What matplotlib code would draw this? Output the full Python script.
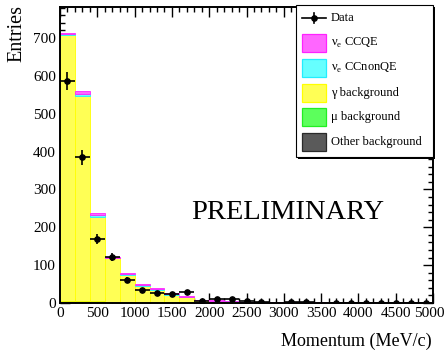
import numpy as np
import matplotlib
matplotlib.use("Agg")
import matplotlib.pyplot as plt
from matplotlib.patches import Rectangle
from matplotlib.lines import Line2D
from matplotlib.ticker import MultipleLocator, FuncFormatter

plt.rcParams['font.family'] = ['Liberation Serif', 'DejaVu Serif']
plt.rcParams['mathtext.fontset'] = 'custom'
plt.rcParams['mathtext.rm'] = 'Liberation Serif'

# ---- data ----
bin_edges = list(range(0, 5001, 200))
data_counts = [587, 385, 170, 122, 62, 34, 26, 23, 30, 6, 10, 10, 5, 2, 0,
               2, 2, 0, 1, 1, 1, 1, 1, 1, 1]
other_bkg = [4, 4, 3, 1, 1, 1, 0.5, 0.5, 0.5, 1, 1, 1, 0.5, 0.3, 0.3,
             0.3, 0.2, 0.2, 0.2, 0.2, 0.2, 0.2, 0.2, 0.2, 0.2]
mu_bkg = [2, 2, 2, 1.5, 1, 1, 1, 1, 1, 1.5, 1.5, 1.5, 1, 1, 1,
          1, 1, 0.8, 0.8, 0.8, 0.8, 0.8, 0.8, 0.8, 0.8]
gamma_bkg = [701, 542, 223, 115.5, 71, 42, 33.5, 20.5, 13.5, 4.5, 3.5, 2.5, 1.5, 1.2, 0.8,
             0.5, 0.5, 0.4, 0.4, 0.3, 0.3, 0.3, 0.3, 0.3, 0.3]
nue_ccnonqe = [3, 5, 5, 2, 3, 3, 2, 2, 1, 0.5, 0.5, 0.5, 0.3, 0.2, 0.2,
               0.1, 0.1, 0.1, 0.1, 0.1, 0.1, 0.1, 0.1, 0.1, 0.1]
nue_ccqe = [2, 8, 4, 2, 2, 2, 3, 2, 1.5, 0.5, 0.5, 0.3, 0.2, 0.1, 0.1,
            0.1, 0.1, 0.1, 0.1, 0.1, 0.1, 0.1, 0.1, 0.1, 0.1]

# (label, values, fill colour, edge colour)
components = [
    ("Other background", other_bkg, '#5a5a5a', '#2a2a2a'),
    ("\u03bc background", mu_bkg, '#5cff5c', '#22ee22'),
    ("\u03b3 background", gamma_bkg, '#ffff55', '#ffff00'),
    ("\u03bd$_\\mathrm{e}$ CCnonQE", nue_ccnonqe, '#66ffff', '#22eeff'),
    ("\u03bd$_\\mathrm{e}$ CCQE", nue_ccqe, '#ff66ff', '#ff22ff'),
]

W, H = 446, 356
fig = plt.figure(figsize=(W / 100, H / 100), dpi=100)
ax = fig.add_axes([60 / W, 1 - 303 / H, (433 - 60) / W, (303 - 7) / H])

edges = np.array(bin_edges, dtype=float)
lefts = edges[:-1]
widths = np.diff(edges)
centers = lefts + widths / 2

bottom = np.zeros(len(lefts))
for name, vals, col, ecol in components:
    v = np.array(vals, dtype=float)
    ax.bar(lefts, v, width=widths, bottom=bottom, align='edge', color=col,
           edgecolor=ecol, linewidth=0.6, zorder=2)
    bottom += v

d = np.array(data_counts, dtype=float)
mask = d > 0
ax.errorbar(centers[mask], d[mask], xerr=widths[mask] / 2, yerr=np.sqrt(d[mask]),
            fmt='o', color='black', markersize=3.8, elinewidth=1.2, capsize=0, zorder=5)

x_max = bin_edges[-1]
ax.set_xlim(0, x_max)
ax.set_ylim(0, 782)
ax.xaxis.set_major_locator(MultipleLocator(500))
ax.xaxis.set_minor_locator(MultipleLocator(100))
ax.yaxis.set_major_locator(MultipleLocator(100))
ax.yaxis.set_minor_locator(MultipleLocator(20))
# last x label is drawn separately, nudged left so it stays on the canvas
ax.xaxis.set_major_formatter(FuncFormatter(lambda v, p: '' if v >= x_max else f'{v:.0f}'))
ax.tick_params(which='both', direction='in', top=True, right=True, labelsize=11,
               width=1.0, pad=3)
ax.tick_params(which='major', length=7)
ax.tick_params(which='minor', length=3.5)
for sp in ax.spines.values():
    sp.set_linewidth(1.4)
    sp.set_zorder(6)

ax.annotate(f'{x_max}', xy=(x_max, 0), xycoords='data', xytext=(-4, -4),
            textcoords='offset pixels', ha='center', va='top', fontsize=11,
            annotation_clip=False)

fig.text(432 / W, 1 - 341 / H, "Momentum (MeV/c)", ha='right', va='center', fontsize=13)
fig.text(17 / W, 1 - 5 / H, "Entries", ha='center', va='top', rotation=90, fontsize=14.5)

ax.text(0.6116, 0.284, "PRELIMINARY", transform=ax.transAxes, ha='center',
        va='baseline', fontsize=20.5, zorder=7)

# ---- legend (drawn in figure pixel coords) ----
def fx(x):
    return x / W

def fy(y):
    return 1 - y / H

lx0, lx1, ly0, ly1 = 296, 433, 5, 157
fig.patches.append(Rectangle((fx(lx0 + 2), fy(ly1 + 2)), (lx1 - lx0) / W, (ly1 - ly0) / H,
                             transform=fig.transFigure, facecolor='black',
                             edgecolor='none', zorder=8))
fig.patches.append(Rectangle((fx(lx0), fy(ly1)), (lx1 - lx0) / W, (ly1 - ly0) / H,
                             transform=fig.transFigure, facecolor='white',
                             edgecolor='black', linewidth=0.8, zorder=9))

rows = [18, 43, 68, 93, 117, 142]
bx0, bx1 = 302, 326
tx = 331
# Data entry
yr = rows[0]
fig.lines.append(Line2D([fx(bx0), fx(bx1)], [fy(yr), fy(yr)], transform=fig.transFigure,
                        color='black', lw=1.2, zorder=10))
fig.lines.append(Line2D([fx((bx0 + bx1) / 2)] * 2, [fy(yr - 5), fy(yr + 5)],
                        transform=fig.transFigure, color='black', lw=1.2, zorder=10))
fig.lines.append(Line2D([fx((bx0 + bx1) / 2)], [fy(yr)], transform=fig.transFigure,
                        marker='o', markersize=3.8, color='black', zorder=10))
fig.text(fx(tx), fy(yr), "Data", ha='left', va='center', fontsize=9, zorder=10)

for (name, vals, col, ecol), yr in zip(list(reversed(components)), rows[1:]):
    fig.patches.append(Rectangle((fx(bx0), fy(yr + 9)), (bx1 - bx0) / W, 18 / H,
                                 transform=fig.transFigure, facecolor=col,
                                 edgecolor=ecol, linewidth=0.9, zorder=10))
    fig.text(fx(tx), fy(yr), name, ha='left', va='center', fontsize=9, zorder=10)

fig.savefig("out.png", dpi=100)
